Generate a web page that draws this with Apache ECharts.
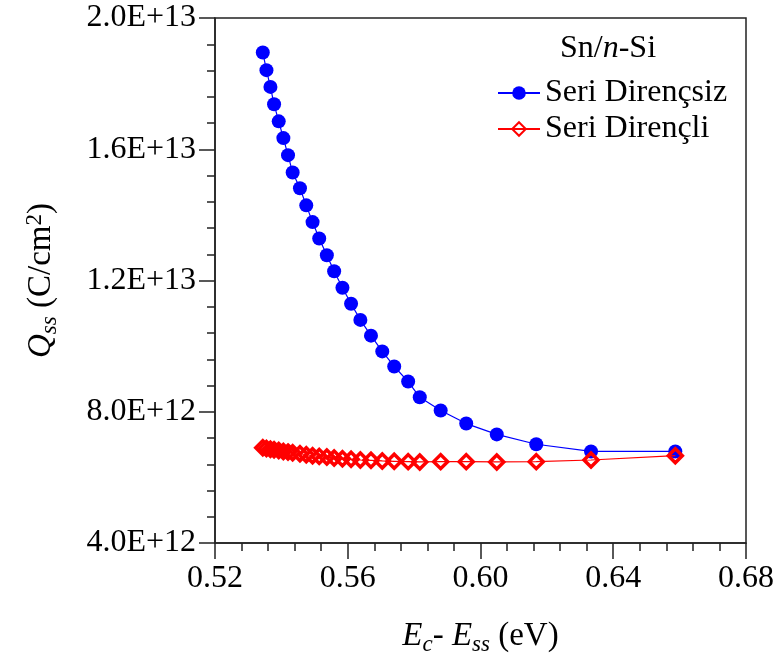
<!DOCTYPE html>
<html>
<head>
<meta charset="utf-8">
<script src="https://cdn.jsdelivr.net/npm/echarts@6/dist/echarts.min.js"></script>
<style>
  html, body { margin: 0; padding: 0; background: #fff; }
  #chart { width: 780px; height: 661px; }
</style>
</head>
<body>
<div id="chart"></div>
<script>
// Surface-state energy (eV), shared by both series
const energy = [0.5344, 0.5355, 0.5367, 0.5378, 0.5392, 0.5406, 0.5420, 0.5434, 0.5456, 0.5475,
                0.5494, 0.5514, 0.5537, 0.5559, 0.5584, 0.5610, 0.5638, 0.5670, 0.5704, 0.5740,
                0.5782, 0.5817, 0.5880, 0.5957, 0.6049, 0.6168, 0.6333, 0.6587];
// Q_ss without series resistance (C/cm^2)
const qWithoutRs = [18.95e12, 18.41e12, 17.90e12, 17.37e12, 16.85e12, 16.34e12, 15.82e12, 15.29e12, 14.81e12, 14.29e12,
                    13.78e12, 13.28e12, 12.77e12, 12.28e12, 11.78e12, 11.29e12, 10.80e12, 10.32e12, 9.84e12, 9.38e12,
                    8.92e12, 8.44e12, 8.04e12, 7.64e12, 7.31e12, 7.01e12, 6.79e12, 6.79e12];
// Q_ss with series resistance (C/cm^2)
const qWithRs = [6.90e12, 6.88e12, 6.86e12, 6.84e12, 6.82e12, 6.79e12, 6.77e12, 6.75e12, 6.72e12, 6.69e12,
                 6.66e12, 6.64e12, 6.62e12, 6.59e12, 6.57e12, 6.55e12, 6.53e12, 6.52e12, 6.50e12, 6.49e12,
                 6.48e12, 6.47e12, 6.48e12, 6.48e12, 6.47e12, 6.48e12, 6.53e12, 6.66e12];
const seriesNames = ['Seri Dirençsiz', 'Seri Dirençli'];

const FONT = '"Liberation Serif", "Times New Roman", serif';
const AXIS_COLOR = '#222';

const chart = echarts.init(document.getElementById('chart'), null, { renderer: 'canvas' });

const pairs = (xs, ys) => xs.map((x, i) => [x, ys[i]]);

chart.setOption({
  backgroundColor: '#fff',
  animation: false,
  textStyle: { fontFamily: FONT },
  grid: {
    left: 215, top: 18, right: 34, bottom: 118,
    show: true, borderColor: AXIS_COLOR, borderWidth: 1.5, backgroundColor: 'transparent'
  },
  xAxis: {
    type: 'value', min: 0.52, max: 0.68, interval: 0.04,
    axisLine: { show: true, onZero: false, lineStyle: { color: AXIS_COLOR, width: 1.5 } },
    axisTick: { show: true, inside: false, length: 16, lineStyle: { color: AXIS_COLOR, width: 1.5 } },
    minorTick: { show: true, splitNumber: 5, length: 8, lineStyle: { color: AXIS_COLOR, width: 1.5 } },
    splitLine: { show: false },
    axisLabel: {
      margin: 20, color: '#000', fontFamily: FONT, fontSize: 32,
      formatter: v => v.toFixed(2)
    },
    name: '{i|E}{sub|c}{n|- }{i|E}{sub|ss}{n| (eV)}',
    nameLocation: 'middle', nameGap: 74,
    nameTextStyle: {
      rich: {
        i: { fontFamily: FONT, fontSize: 33, fontStyle: 'italic', color: '#000' },
        n: { fontFamily: FONT, fontSize: 33, color: '#000' },
        sub: { fontFamily: FONT, fontSize: 23, fontStyle: 'italic', color: '#000', padding: [16, 0, 0, 0] }
      }
    }
  },
  yAxis: {
    type: 'value', min: 4e12, max: 2e13, interval: 4e12,
    axisLine: { show: true, onZero: false, lineStyle: { color: AXIS_COLOR, width: 1.5 } },
    axisTick: { show: true, inside: false, length: 16, lineStyle: { color: AXIS_COLOR, width: 1.5 } },
    minorTick: { show: true, splitNumber: 5, length: 8, lineStyle: { color: AXIS_COLOR, width: 1.5 } },
    splitLine: { show: false },
    axisLabel: {
      margin: 19, color: '#000', fontFamily: FONT, fontSize: 32,
      formatter: v => v.toExponential(1).toUpperCase()
    },
    name: '{i|Q}{sub|ss}{n| (C/cm}{sup|2}{n|)}',
    nameLocation: 'middle', nameGap: 154, nameRotate: 90,
    nameTextStyle: {
      rich: {
        i: { fontFamily: FONT, fontSize: 33, fontStyle: 'italic', color: '#000' },
        n: { fontFamily: FONT, fontSize: 33, color: '#000' },
        sub: { fontFamily: FONT, fontSize: 23, fontStyle: 'italic', color: '#000', padding: [16, 0, 0, 0] },
        sup: { fontFamily: FONT, fontSize: 23, color: '#000', padding: [0, 0, 14, 0] }
      }
    }
  },
  legend: {
    orient: 'vertical', left: 492, top: 71,
    itemWidth: 42, itemHeight: 17, itemGap: 2,
    textStyle: { fontFamily: FONT, fontSize: 32, color: '#000', lineHeight: 34 },
    data: seriesNames
  },
  graphic: [{
    type: 'text', left: 560, top: 33,
    style: {
      text: '{a|Sn/}{i|n}{a|-Si}',
      rich: {
        a: { fontFamily: FONT, fontSize: 32, fill: '#000' },
        i: { fontFamily: FONT, fontSize: 32, fontStyle: 'italic', fill: '#000' }
      }
    }
  }],
  series: [
    {
      name: seriesNames[0], type: 'line', data: pairs(energy, qWithoutRs),
      symbol: 'circle', symbolSize: 14,
      lineStyle: { color: '#0000ff', width: 1.2 },
      itemStyle: { color: '#0000ff' },
      z: 3
    },
    {
      name: seriesNames[1], type: 'line', data: pairs(energy, qWithRs),
      symbol: 'diamond', symbolSize: 14,
      lineStyle: { color: '#ff0000', width: 1.2 },
      itemStyle: { color: 'rgba(255,255,255,0)', borderColor: '#ff0000', borderWidth: 3.5 },
      z: 4
    }
  ]
});
</script>
</body>
</html>
